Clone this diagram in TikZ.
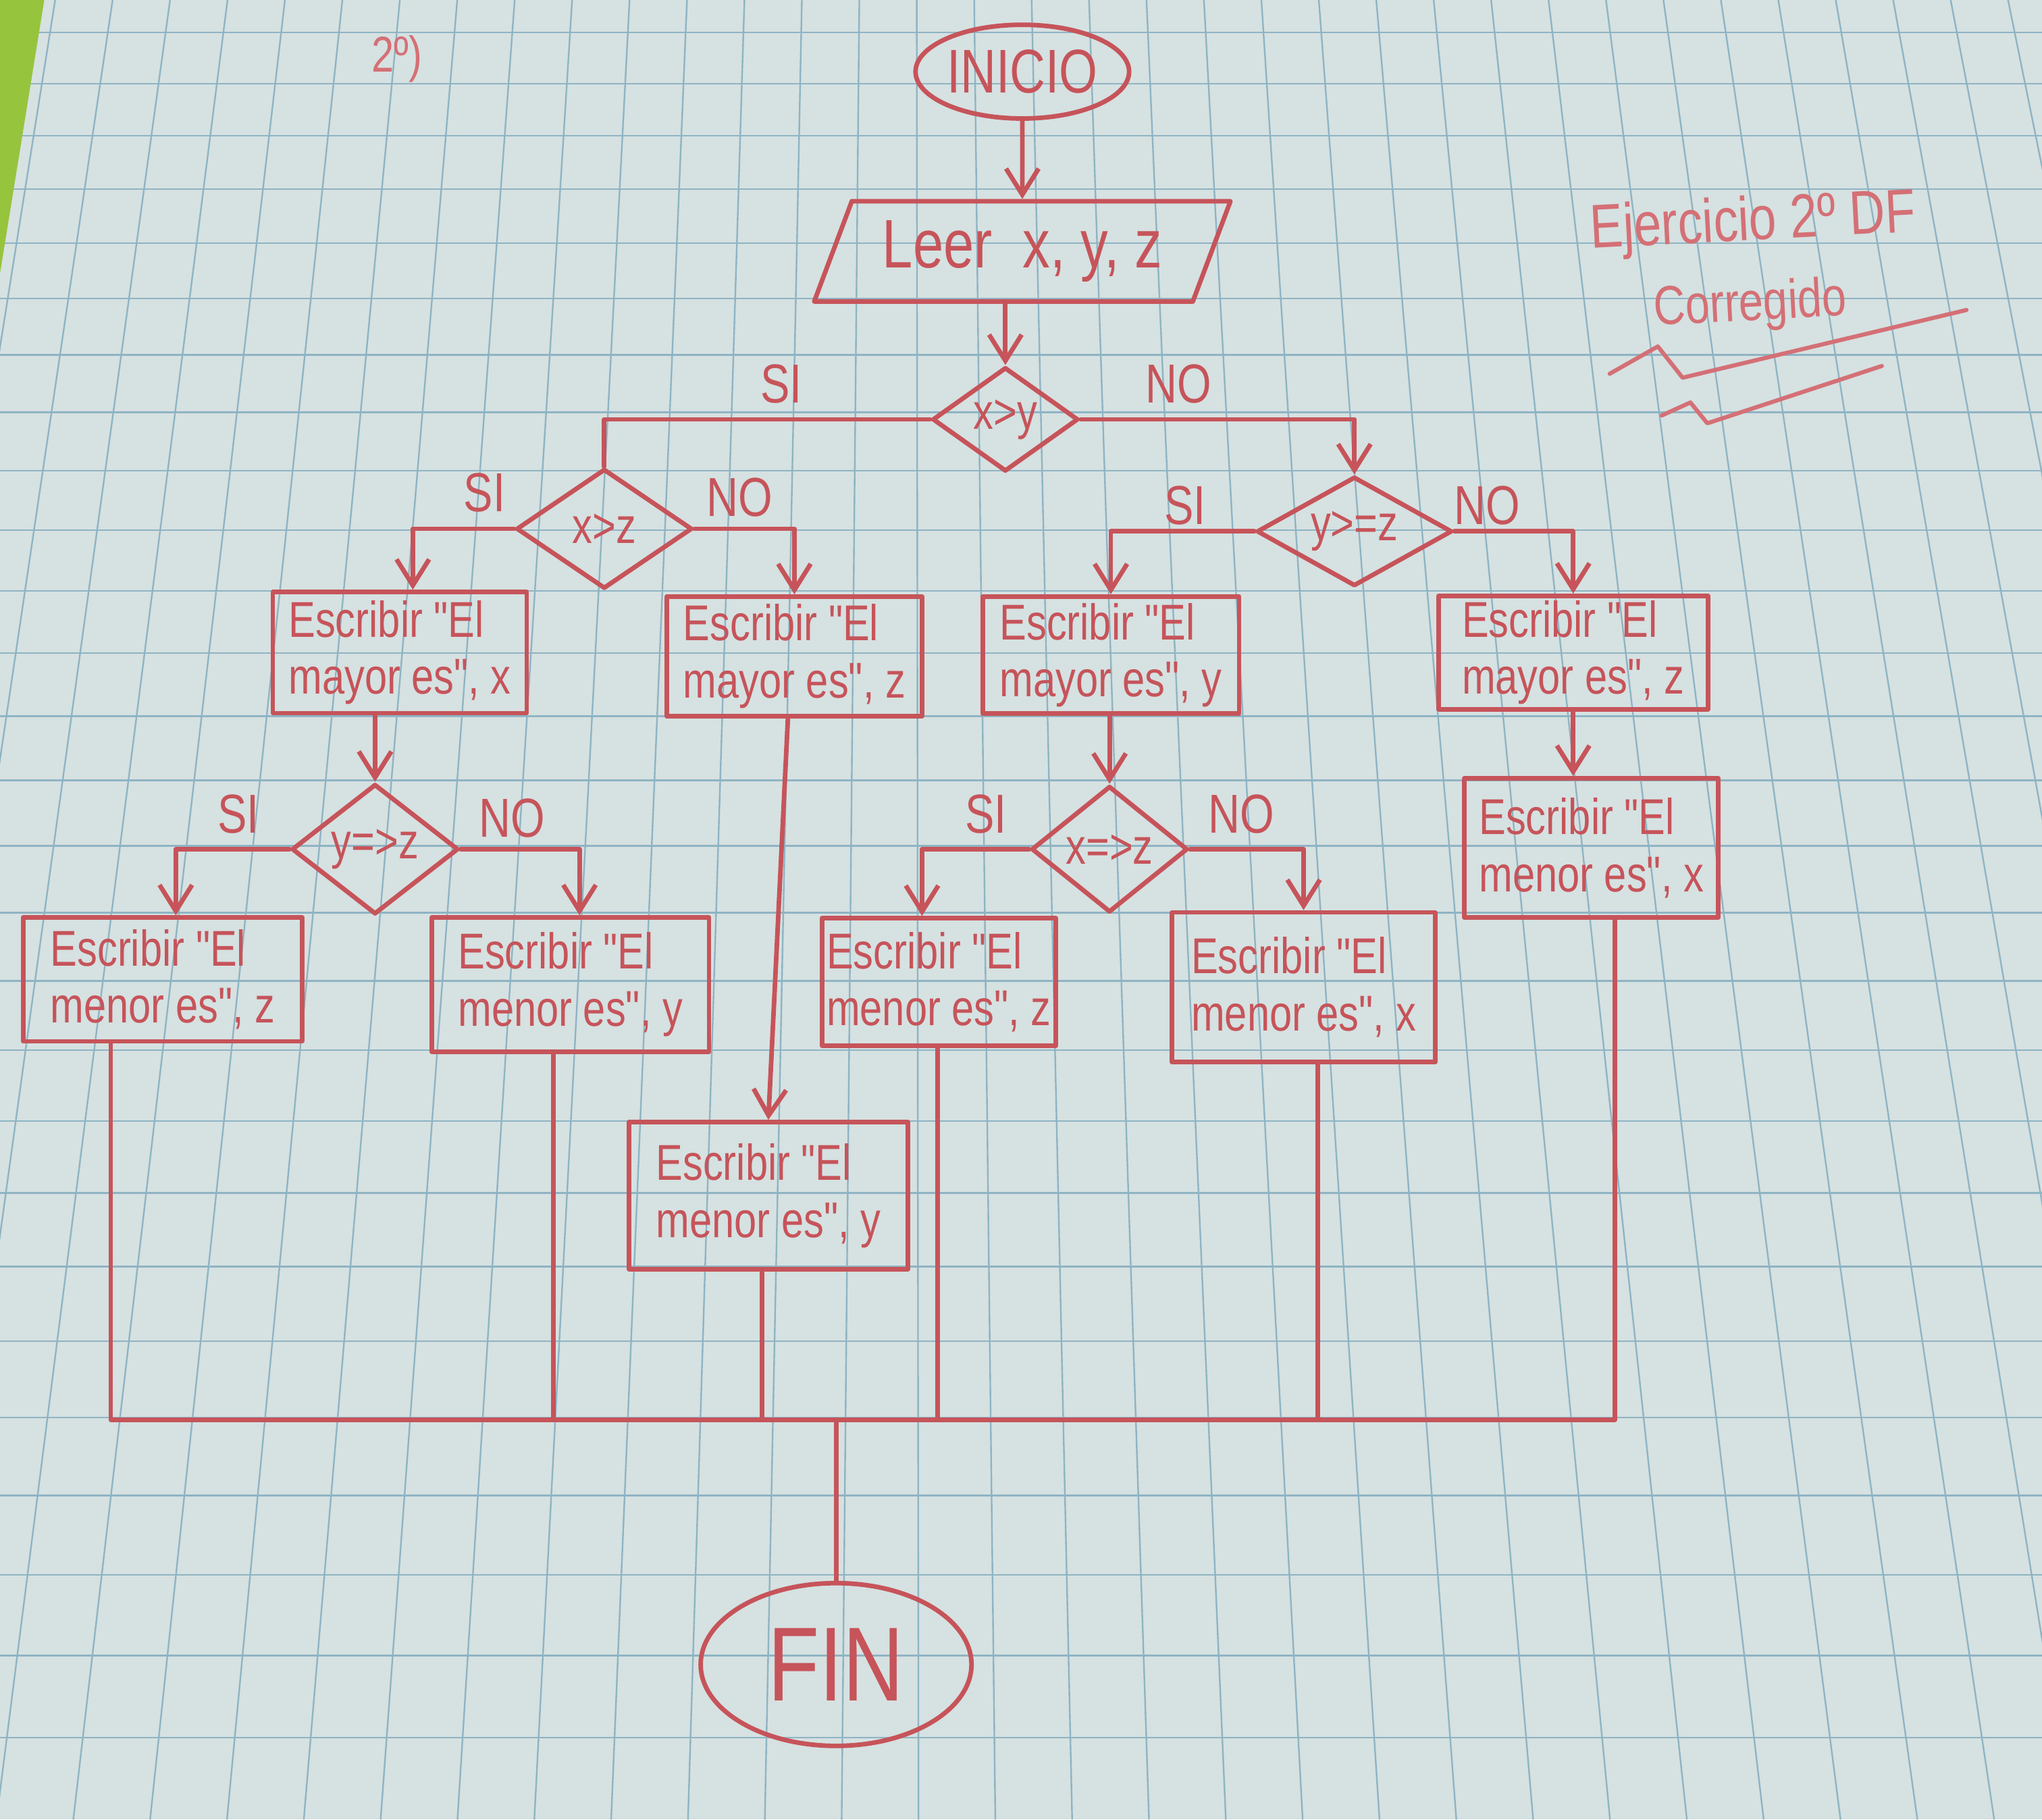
\documentclass[tikz,border=0pt]{standalone}
\usepackage{fontspec}
\setmainfont{Liberation Sans}[FakeStretch=0.8,Ligatures=TeXOff]
\usetikzlibrary{shapes.geometric,arrows.meta,calc}
\definecolor{ink}{RGB}{198,84,90}
\definecolor{inklight}{RGB}{212,112,118}
\definecolor{paper}{RGB}{214,225,225}
\definecolor{gridc}{RGB}{142,180,196}
\definecolor{leaf}{RGB}{150,196,60}
\begin{document}
\begin{tikzpicture}[x=0.02cm,y=-0.02cm,
  ln/.style={draw=ink,line width=2pt,line cap=round,line join=round},
  arr/.style={ln,-{Straight Barb[length=0.4cm,width=0.5cm]}},
  txt/.style={text=ink,font=\fontsize{22}{25}\selectfont},
  box/.style={ln,txt,rectangle,align=left,inner sep=2pt},
  dec/.style={ln,txt,diamond,inner sep=0pt,font=\fontsize{22}{24}\selectfont},
  term/.style={ln,txt,ellipse,inner sep=0pt},
  lab/.style={txt,font=\fontsize{24}{26}\selectfont},
  note/.style={text=inklight},
  scribble/.style={draw=inklight,line width=1.8pt,line cap=round,line join=round}]

% paper background
\fill[paper] (0,0) rectangle (1568,1397);
\useasboundingbox (0,0) rectangle (1568,1397);
\begin{scope}
  \clip (0,0) rectangle (1568,1397);
  \foreach \n in {-1,...,28} {
    \pgfmathsetmacro\yy{2050*exp(0.019*\n)-2025}
    \draw[gridc,line width=0.7pt] (0,\yy) -- (1568,\yy);
  }
  \foreach \m in {-12,...,24} {
    \pgfmathsetmacro\xm{490+53.7*\m}
    \pgfmathsetmacro\xt{700+0.8213*(\xm-700)}
    \pgfmathsetmacro\xb{700+1.0987*(\xm-700)}
    \draw[gridc,line width=0.7pt] (\xt,0) -- (\xb,1397);
  }
  \fill[leaf] (0,0) -- (34,0) -- (0,210) -- cycle;
\end{scope}

% notes
\node[note,font=\fontsize{22}{24}\selectfont] (num) at (305,45) {2º)};
\node[note,font=\fontsize{27}{29}\selectfont,rotate=3] (tit) at (1346,172) {Ejercicio 2º DF};
\node[note,font=\fontsize{24}{26}\selectfont,rotate=3] (cor) at (1344,235) {Corregido};
\draw[scribble] (1236,287) -- (1273,266) -- (1292,290) -- (1510,238);
\draw[scribble] (1276,319) -- (1298,309) -- (1311,325) -- (1445,281);

% terminals and input
\node[term,minimum width=3.0cm,minimum height=1.44cm,font=\fontsize{27}{29}\selectfont] (ini) at (785,55) {INICIO};
\node[ln,txt,trapezium,trapezium left angle=67,trapezium right angle=113,trapezium stretches=true,
      minimum width=6.4cm,minimum height=1.54cm,font=\fontsize{30}{32}\selectfont] (leer) at (785,193) {Leer\ \ x, y, z};
\node[term,minimum width=4.16cm,minimum height=2.5cm,font=\fontsize{46}{48}\selectfont] (fin) at (642,1278) {FIN};

% decisions
\node[dec,aspect=1.4,minimum width=2.24cm,minimum height=1.6cm] (d1) at (772,322) {x>y};
\node[dec,aspect=1.47,minimum width=2.7cm,minimum height=1.84cm] (d2) at (464,406) {x>z};
\node[dec,aspect=1.79,minimum width=3.0cm,minimum height=1.68cm] (d3) at (1040,408) {y>=z};
\node[dec,aspect=1.28,minimum width=2.56cm,minimum height=2.0cm] (d4) at (288,652) {y=>z};
\node[dec,aspect=1.24,minimum width=2.4cm,minimum height=1.94cm] (d5) at (852,652) {x=>z};

% boxes
\node[box,minimum width=3.9cm,minimum height=1.86cm] (b1) at (307,501) {Escribir "El\\mayor es", x};
\node[box,minimum width=3.92cm,minimum height=1.84cm] (b2) at (610,504) {Escribir "El\\mayor es", z};
\node[box,minimum width=3.94cm,minimum height=1.8cm] (b3) at (853,503) {Escribir "El\\mayor es", y};
\node[box,minimum width=4.14cm,minimum height=1.74cm] (b4) at (1208,501) {Escribir "El\\mayor es", z};
\node[box,minimum width=4.28cm,minimum height=1.9cm] (b5) at (125,752) {Escribir "El\\menor es", z};
\node[box,minimum width=4.26cm,minimum height=2.06cm] (b6) at (438,756) {Escribir "El\\menor es", y};
\node[box,minimum width=4.28cm,minimum height=2.26cm] (b7) at (590,918) {Escribir "El\\menor es", y};
\node[box,minimum width=3.56cm,minimum height=1.96cm] (b8) at (721,754) {Escribir "El\\menor es", z};
\node[box,minimum width=4.04cm,minimum height=2.3cm] (b9) at (1001,758) {Escribir "El\\menor es", x};
\node[box,minimum width=3.9cm,minimum height=2.14cm] (b10) at (1222,651) {Escribir "El\\menor es", x};

% branch labels
\node[lab] (si1) at (600,295) {SI};
\node[lab] (no1) at (905,295) {NO};
\node[lab] (si2) at (372,378) {SI};
\node[lab] (no2) at (568,382) {NO};
\node[lab] (si3) at (910,388) {SI};
\node[lab] (no3) at (1142,388) {NO};
\node[lab] (si4) at (183,625) {SI};
\node[lab] (no4) at (393,628) {NO};
\node[lab] (si5) at (757,625) {SI};
\node[lab] (no5) at (953,625) {NO};

% connectors
\draw[arr] (ini) -- (leer);
\draw[arr] (d1.north |- leer.south) -- (d1.north);
\draw[ln] (d1.west) -| (d2.north);
\draw[arr] (d1.east) -| (d3.north);
\draw[arr] (d2.west) -| ([xshift=0.2cm]b1.north);
\draw[arr] (d2.east) -| (b2.north);
\draw[arr] (d3.west) -| (b3.north);
\draw[arr] (d3.east) -| (b4.north);
\draw[arr] (d4.north |- b1.south) -- (d4.north);
\draw[arr] (d4.west) -| ([xshift=0.2cm]b5.north);
\draw[arr] (d4.east) -| ([xshift=0.14cm]b6.north);
\draw[arr] ([xshift=-0.1cm]b2.south) -- (b7.north);
\draw[arr] (d5.north |- b3.south) -- (d5.north);
\draw[arr] (d5.west) -| ([xshift=-0.26cm]b8.north);
\draw[arr] (d5.east) -| (b9.north);
\draw[arr] (b4.south) -- (b4.south |- b10.north);

% merge bus
\coordinate (j5) at (85,1090);
\coordinate (j6) at (425,1090);
\coordinate (j7) at (585,1090);
\coordinate (j8) at (720,1090);
\coordinate (j9) at (1012,1090);
\coordinate (j10) at (1240,1090);
\coordinate (jf) at (642,1090);
\draw[ln] (b5.south -| j5) -- (j5) -- (j10) -- (b10.south -| j10);
\draw[ln] (b6.south -| j6) -- (j6);
\draw[ln] (b7.south -| j7) -- (j7);
\draw[ln] (b8.south -| j8) -- (j8);
\draw[ln] (b9.south -| j9) -- (j9);
\draw[ln] (jf) -- (fin.north);
\end{tikzpicture}
\end{document}
